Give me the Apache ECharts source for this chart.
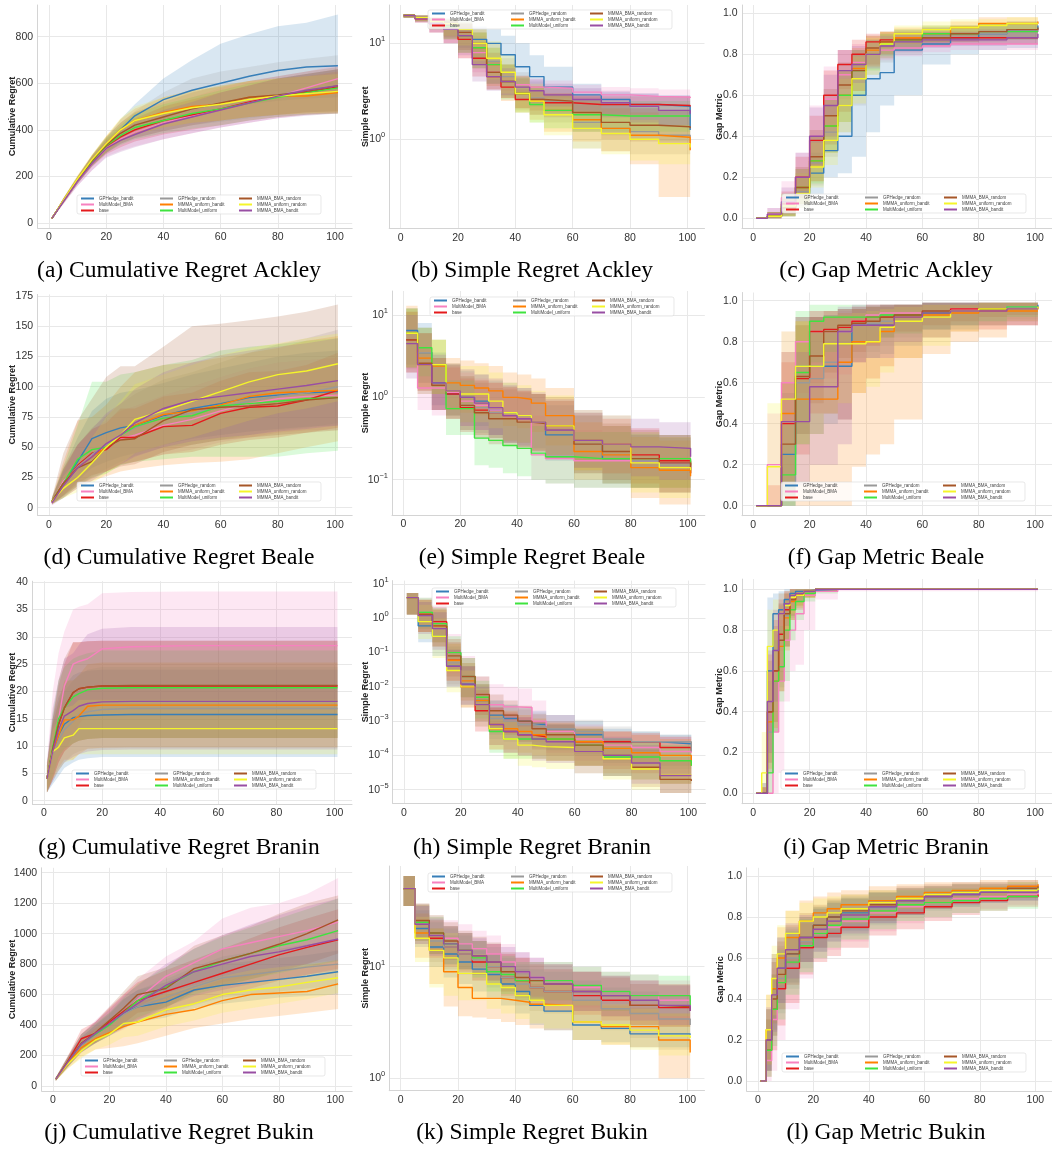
<!DOCTYPE html>
<html>
<head>
<meta charset="utf-8">
<title>Regret and gap metric curves</title>
<script src="https://cdn.jsdelivr.net/npm/echarts@6.0.0/dist/echarts.min.js"></script>
<style>
html, body { margin: 0; padding: 0; background: #fff; }
#main { width: 1052px; height: 1153px; }
</style>
</head>
<body>
<div id="main"></div>
<script>
// methods, in the order they were plotted
var methods = ['GPHedge_bandit', 'MultiModel_BMA', 'base', 'GPHedge_random', 'MMMA_uniform_bandit',
    'MultiModel_uniform', 'MMMA_BMA_random', 'MMMA_uniform_random', 'MMMA_BMA_bandit'];
var methodColors = ['#377eb8', '#f781bf', '#e41a1c', '#999999', '#ff7f00',
    '#3fe33f', '#a65628', '#f5f52a', '#984ea3'];
// legend reads column by column, echarts fills row by row
var legendOrder = ['GPHedge_bandit', 'GPHedge_random', 'MMMA_BMA_random',
    'MultiModel_BMA', 'MMMA_uniform_bandit', 'MMMA_uniform_random',
    'base', 'MultiModel_uniform', 'MMMA_BMA_bandit'];

var cumX = [1, 5, 10, 15, 20, 25, 30, 40, 50, 60, 70, 80, 90, 101];
var stepX = [1, 5, 10, 15, 20, 25, 30, 35, 40, 45, 50, 60, 70, 80, 90, 101];
var braninCumX = [1, 3, 5, 7, 10, 12, 15, 20, 30, 50, 101];
var braninGapX = [1, 3, 5, 7, 9, 11, 13, 15, 18, 22, 30, 101];
var bukinGapX = [1, 3, 5, 7, 10, 15, 20, 25, 30, 40, 50, 60, 70, 80, 90, 101];

var xTicks = [0, 20, 40, 60, 80, 100];
var gapTicks = [0, 0.2, 0.4, 0.6, 0.8, 1.0];

// ---- (a) cumulative regret, Ackley
var ackleyCumMean = [
    [20, 95, 185, 265, 335, 400, 460, 530, 570, 600, 630, 655, 670, 675],
    [20, 92, 180, 255, 320, 360, 390, 430, 460, 490, 520, 545, 580, 620],
    [20, 95, 185, 265, 330, 370, 400, 440, 465, 490, 520, 545, 560, 585],
    [20, 95, 185, 268, 335, 385, 420, 455, 490, 510, 530, 550, 570, 590],
    [20, 96, 188, 270, 338, 400, 440, 475, 500, 510, 540, 545, 545, 560],
    [20, 95, 186, 265, 332, 375, 410, 440, 470, 490, 515, 540, 560, 580],
    [20, 95, 186, 268, 335, 385, 420, 455, 490, 515, 540, 550, 565, 590],
    [20, 97, 190, 272, 340, 400, 440, 470, 495, 510, 530, 545, 555, 565],
    [20, 92, 180, 255, 320, 355, 380, 425, 455, 485, 515, 545, 570, 590]
];
var ackleyCumLo = [
    [18, 85, 170, 245, 305, 350, 390, 440, 470, 490, 510, 525, 535, 540],
    [18, 80, 160, 225, 285, 310, 330, 360, 385, 410, 430, 450, 465, 475],
    [18, 85, 170, 240, 295, 325, 350, 380, 400, 420, 440, 455, 465, 470],
    [18, 85, 170, 245, 300, 340, 365, 395, 420, 435, 450, 465, 475, 480],
    [18, 86, 172, 248, 305, 350, 380, 410, 430, 440, 455, 465, 470, 470],
    [18, 85, 170, 245, 300, 335, 360, 385, 405, 420, 440, 455, 465, 470],
    [18, 85, 170, 245, 300, 340, 365, 395, 420, 440, 455, 465, 475, 480],
    [18, 87, 174, 250, 305, 350, 380, 410, 430, 440, 455, 465, 470, 475],
    [18, 80, 160, 225, 280, 305, 325, 360, 385, 410, 430, 450, 460, 470]
];
var ackleyCumHi = [
    [22, 105, 200, 285, 365, 445, 510, 620, 700, 770, 810, 845, 860, 895],
    [22, 105, 200, 285, 350, 400, 440, 500, 540, 580, 610, 630, 650, 680],
    [22, 105, 200, 290, 360, 410, 450, 500, 530, 560, 590, 620, 640, 660],
    [22, 105, 200, 290, 370, 430, 480, 560, 620, 650, 670, 690, 705, 720],
    [22, 106, 204, 292, 372, 445, 490, 540, 570, 585, 610, 620, 630, 650],
    [22, 105, 200, 290, 365, 420, 470, 510, 540, 570, 600, 620, 640, 660],
    [22, 105, 200, 290, 370, 430, 475, 520, 560, 590, 610, 630, 650, 670],
    [22, 107, 206, 294, 375, 450, 500, 540, 570, 590, 610, 620, 630, 640],
    [22, 104, 198, 282, 350, 395, 430, 485, 520, 560, 590, 620, 640, 660]
];

// ---- (b) simple regret, Ackley
var ackleySimpleMean = [
    [19.5, 18.5, 17, 15.5, 14, 11, 10, 7.6, 5.7, 4.5, 3.5, 2.9, 2.6, 2.3, 2.2, 1.25],
    [19.5, 18, 16, 14, 12, 8, 5, 4, 3.7, 3.5, 3.4, 3.1, 2.9, 2.8, 2.75, 2.7],
    [19.5, 18, 16, 14, 11, 7, 4.5, 3.5, 2.6, 2.6, 2.4, 2.3, 2.3, 2.3, 2.25, 2.2],
    [19.5, 18.5, 17, 15, 13, 9, 6.5, 4.5, 3, 2.7, 2.5, 1.5, 1.3, 1.2, 1.1, 1.05],
    [19.5, 18.5, 17, 15, 12, 9, 6, 4, 3, 2.5, 2.0, 1.6, 1.3, 1.1, 1.05, 0.77],
    [19.5, 18.5, 17, 15, 12, 9, 6, 4, 3, 2.3, 2.0, 1.8, 1.75, 1.75, 1.75, 1.75],
    [19.5, 18.5, 17, 15.5, 13, 10, 5, 4, 3, 2.6, 2.5, 1.9, 1.5, 1.4, 1.35, 1.3],
    [19.5, 18.5, 17, 16, 14, 10, 7, 5, 3, 2.5, 1.8, 1.3, 1.15, 1.0, 0.9, 0.82],
    [19.5, 18, 16, 14, 12, 6, 4.5, 4, 3.5, 3.2, 2.9, 2.6, 2.4, 2.2, 2.0, 1.85]
];
var ackleySimpleLo = [
    [18.5, 17, 14.5, 12, 9, 7, 6, 4.5, 3, 2.2, 1.8, 1.3, 1.1, 1.0, 0.95, 0.8],
    [18.5, 16.5, 13, 10, 7, 5, 3.8, 3.2, 3.0, 2.8, 2.7, 2.5, 2.3, 2.3, 2.2, 2.2],
    [18.5, 16.5, 13, 10, 7, 4.5, 3.3, 2.7, 2.1, 2.0, 1.9, 1.8, 1.8, 1.8, 1.8, 1.8],
    [18.5, 17, 14, 11, 8, 5.5, 3.8, 2.8, 2.0, 1.8, 1.5, 0.8, 0.75, 0.7, 0.7, 0.7],
    [18.5, 17, 14, 11, 8, 5.5, 3.6, 2.5, 1.9, 1.6, 1.2, 0.95, 0.75, 0.55, 0.25, 0.16],
    [18.5, 17, 14, 11, 8, 5.5, 3.8, 2.6, 1.9, 1.5, 1.3, 1.2, 1.2, 1.2, 1.2, 1.2],
    [18.5, 17, 14, 11.5, 8.5, 6, 3.3, 2.7, 2.1, 1.8, 1.7, 1.2, 1.0, 0.95, 0.9, 0.9],
    [18.5, 17, 14.5, 12, 9.5, 6.5, 4.2, 3, 1.9, 1.5, 1.1, 0.8, 0.7, 0.6, 0.55, 0.53],
    [18.5, 16.5, 13, 10, 7.5, 4, 3.2, 2.9, 2.6, 2.4, 2.2, 1.9, 1.7, 1.5, 1.4, 1.3]
];
var ackleySimpleHi = [
    [20, 19.5, 18.5, 18, 17, 15, 14, 12, 10, 7.5, 5.7, 3.8, 3.1, 3.0, 2.9, 2.8],
    [20, 19.5, 18, 17, 16, 12, 7, 5, 4.6, 4.3, 4.1, 3.7, 3.5, 3.4, 3.3, 3.3],
    [20, 19.5, 18, 17, 15, 10, 6.5, 4.5, 3.3, 3.2, 3.0, 2.9, 2.8, 2.8, 2.8, 2.7],
    [20, 19.5, 18.5, 17.5, 16, 13, 10, 7, 5, 4, 3.6, 2.8, 2.4, 2.2, 2.0, 1.9],
    [20, 19.5, 18.5, 17.5, 16, 13, 9, 6, 4.5, 3.6, 3.0, 2.5, 2.1, 1.9, 1.8, 1.7],
    [20, 19.5, 18.5, 17.5, 16, 13, 9, 6, 4.4, 3.4, 2.9, 2.6, 2.5, 2.5, 2.5, 2.5],
    [20, 19.5, 18.5, 18, 16.5, 14, 8, 6, 4.3, 3.6, 3.4, 2.8, 2.3, 2.1, 2.0, 1.9],
    [20, 19.5, 18.5, 18, 17, 14, 10.5, 7.5, 4.6, 3.8, 2.8, 2.0, 1.8, 1.6, 1.4, 1.3],
    [20, 19.5, 18, 17, 16, 9, 6.5, 5.5, 4.6, 4.2, 3.8, 3.4, 3.2, 3.0, 2.8, 2.6]
];

// ---- (c) gap metric, Ackley
var ackleyGapMean = [
    [0, 0.01, 0.05, 0.12, 0.22, 0.33, 0.4, 0.6, 0.68, 0.71, 0.82, 0.85, 0.88, 0.9, 0.92, 0.94],
    [0, 0.02, 0.1, 0.2, 0.4, 0.58, 0.7, 0.76, 0.8, 0.82, 0.83, 0.84, 0.85, 0.85, 0.85, 0.85],
    [0, 0.01, 0.07, 0.2, 0.38, 0.6, 0.75, 0.8, 0.86, 0.87, 0.88, 0.88, 0.88, 0.88, 0.88, 0.88],
    [0, 0.01, 0.05, 0.13, 0.27, 0.42, 0.55, 0.68, 0.8, 0.84, 0.86, 0.89, 0.9, 0.9, 0.91, 0.92],
    [0, 0.01, 0.05, 0.15, 0.28, 0.45, 0.6, 0.73, 0.82, 0.86, 0.88, 0.9, 0.93, 0.95, 0.95, 0.96],
    [0, 0.01, 0.06, 0.15, 0.28, 0.45, 0.6, 0.72, 0.8, 0.85, 0.87, 0.9, 0.9, 0.91, 0.91, 0.91],
    [0, 0.01, 0.05, 0.15, 0.3, 0.5, 0.65, 0.72, 0.83, 0.86, 0.87, 0.88, 0.9, 0.91, 0.92, 0.93],
    [0, 0.01, 0.06, 0.12, 0.25, 0.38, 0.55, 0.68, 0.8, 0.85, 0.9, 0.92, 0.93, 0.94, 0.95, 0.95],
    [0, 0.02, 0.08, 0.2, 0.4, 0.55, 0.72, 0.75, 0.8, 0.84, 0.86, 0.87, 0.87, 0.87, 0.88, 0.9]
];
var ackleyGapLo = [
    [0, 0, 0.01, 0.05, 0.12, 0.2, 0.22, 0.3, 0.42, 0.55, 0.6, 0.75, 0.8, 0.82, 0.83, 0.85],
    [0, 0, 0.03, 0.1, 0.25, 0.42, 0.58, 0.68, 0.74, 0.77, 0.79, 0.81, 0.82, 0.82, 0.82, 0.82],
    [0, 0, 0.02, 0.1, 0.25, 0.45, 0.63, 0.72, 0.8, 0.83, 0.85, 0.85, 0.85, 0.85, 0.85, 0.85],
    [0, 0, 0.01, 0.06, 0.16, 0.3, 0.42, 0.55, 0.7, 0.76, 0.8, 0.84, 0.86, 0.86, 0.87, 0.88],
    [0, 0, 0.01, 0.07, 0.18, 0.32, 0.47, 0.62, 0.74, 0.8, 0.83, 0.86, 0.89, 0.91, 0.92, 0.93],
    [0, 0, 0.01, 0.07, 0.17, 0.32, 0.47, 0.6, 0.72, 0.79, 0.82, 0.86, 0.87, 0.87, 0.87, 0.87],
    [0, 0, 0.01, 0.07, 0.18, 0.36, 0.52, 0.62, 0.75, 0.8, 0.82, 0.84, 0.86, 0.87, 0.88, 0.89],
    [0, 0, 0.01, 0.05, 0.15, 0.26, 0.42, 0.56, 0.7, 0.78, 0.85, 0.88, 0.9, 0.91, 0.92, 0.92],
    [0, 0, 0.02, 0.1, 0.26, 0.4, 0.6, 0.66, 0.73, 0.78, 0.81, 0.83, 0.84, 0.84, 0.85, 0.86]
];
var ackleyGapHi = [
    [0, 0.03, 0.1, 0.2, 0.32, 0.45, 0.6, 0.75, 0.8, 0.84, 0.88, 0.9, 0.93, 0.95, 0.96, 0.97],
    [0, 0.05, 0.18, 0.32, 0.55, 0.74, 0.82, 0.85, 0.86, 0.87, 0.87, 0.87, 0.88, 0.88, 0.88, 0.88],
    [0, 0.03, 0.13, 0.3, 0.5, 0.72, 0.82, 0.87, 0.9, 0.91, 0.91, 0.91, 0.91, 0.91, 0.91, 0.91],
    [0, 0.03, 0.1, 0.22, 0.38, 0.55, 0.68, 0.8, 0.87, 0.9, 0.91, 0.93, 0.94, 0.94, 0.95, 0.95],
    [0, 0.03, 0.1, 0.24, 0.4, 0.58, 0.72, 0.83, 0.89, 0.91, 0.93, 0.94, 0.96, 0.98, 0.98, 0.99],
    [0, 0.03, 0.12, 0.24, 0.4, 0.58, 0.72, 0.82, 0.87, 0.9, 0.92, 0.94, 0.94, 0.95, 0.95, 0.95],
    [0, 0.03, 0.1, 0.25, 0.43, 0.63, 0.76, 0.82, 0.89, 0.91, 0.92, 0.93, 0.94, 0.95, 0.96, 0.97],
    [0, 0.03, 0.12, 0.22, 0.37, 0.5, 0.68, 0.79, 0.88, 0.91, 0.94, 0.96, 0.97, 0.97, 0.98, 0.98],
    [0, 0.05, 0.15, 0.32, 0.54, 0.7, 0.82, 0.84, 0.87, 0.89, 0.9, 0.91, 0.91, 0.92, 0.92, 0.94]
];

// ---- (d) cumulative regret, Beale
var bealeCumMean = [
    [5, 20, 38, 57, 62, 66, 68, 76, 82, 86, 91, 93, 95, 96],
    [4, 22, 33, 43, 50, 57, 60, 68, 73, 80, 86, 90, 92, 93],
    [5, 20, 35, 45, 48, 58, 58, 67, 68, 78, 83, 84, 89, 97],
    [5, 20, 34, 44, 52, 60, 66, 75, 78, 83, 88, 92, 95, 100],
    [5, 20, 33, 42, 50, 60, 68, 77, 80, 85, 92, 95, 96, 97],
    [5, 20, 40, 48, 50, 60, 67, 74, 76, 84, 86, 88, 90, 91],
    [5, 20, 33, 38, 50, 56, 57, 72, 81, 83, 84, 86, 89, 91],
    [5, 16, 25, 37, 50, 60, 73, 80, 88, 96, 104, 110, 113, 119],
    [4, 18, 33, 42, 53, 60, 70, 82, 89, 92, 95, 98, 101, 105]
];
var bealeCumLo = [
    [3, 10, 22, 33, 38, 42, 45, 52, 57, 60, 63, 65, 67, 68],
    [2, 10, 18, 25, 30, 35, 38, 44, 48, 54, 58, 62, 64, 64],
    [3, 10, 20, 27, 30, 36, 38, 44, 46, 52, 56, 58, 62, 66],
    [3, 10, 19, 26, 32, 38, 43, 50, 52, 56, 60, 64, 66, 70],
    [3, 8, 16, 22, 26, 30, 32, 35, 37, 38, 40, 45, 50, 55],
    [3, 8, 18, 25, 28, 35, 38, 40, 42, 42, 42, 42, 45, 47],
    [3, 9, 18, 24, 30, 34, 36, 46, 52, 56, 58, 60, 62, 64],
    [3, 8, 13, 20, 28, 36, 45, 52, 58, 65, 72, 78, 82, 88],
    [2, 8, 16, 22, 30, 36, 42, 50, 55, 58, 60, 63, 65, 68]
];
var bealeCumHi = [
    [8, 32, 58, 80, 90, 95, 97, 103, 110, 115, 120, 125, 128, 130],
    [7, 35, 52, 64, 72, 80, 84, 93, 100, 108, 115, 120, 122, 124],
    [8, 32, 52, 65, 70, 82, 82, 92, 95, 105, 112, 113, 118, 128],
    [8, 32, 52, 66, 76, 86, 94, 106, 112, 120, 128, 135, 140, 147],
    [8, 38, 72, 75, 85, 100, 112, 118, 120, 124, 128, 132, 138, 142],
    [8, 34, 68, 104, 104, 110, 112, 118, 122, 130, 133, 135, 138, 140],
    [8, 45, 72, 90, 108, 117, 117, 133, 150, 152, 155, 158, 162, 168],
    [7, 26, 40, 58, 75, 88, 102, 110, 118, 126, 132, 136, 140, 144],
    [7, 30, 52, 65, 78, 86, 98, 112, 120, 126, 130, 133, 136, 140]
];

// ---- (e) simple regret, Beale
var bealeSimpleMean = [
    [6.5, 3.5, 1.5, 1.1, 1.0, 0.9, 0.7, 0.65, 0.6, 0.5, 0.35, 0.3, 0.18, 0.17, 0.16, 0.16],
    [6, 1.3, 1.3, 1.15, 0.9, 0.8, 0.7, 0.6, 0.55, 0.2, 0.18, 0.17, 0.17, 0.17, 0.16, 0.15],
    [5, 2.5, 1.4, 1.1, 0.75, 0.7, 0.65, 0.6, 0.55, 0.5, 0.4, 0.3, 0.27, 0.2, 0.17, 0.12],
    [6, 3.5, 1.4, 1.2, 0.8, 0.75, 0.65, 0.6, 0.55, 0.5, 0.4, 0.27, 0.2, 0.17, 0.15, 0.12],
    [6, 3, 2.4, 1.5, 1.4, 1.3, 1.2, 1.0, 0.95, 0.85, 0.6, 0.22, 0.2, 0.14, 0.13, 0.11],
    [6, 4, 2.5, 0.73, 0.73, 0.32, 0.3, 0.26, 0.24, 0.21, 0.19, 0.18, 0.18, 0.18, 0.18, 0.15],
    [5, 2.6, 1.4, 1.2, 0.8, 0.65, 0.55, 0.55, 0.5, 0.48, 0.45, 0.27, 0.22, 0.18, 0.16, 0.13],
    [6, 2.5, 2.5, 1.2, 1.1, 1.1, 0.9, 0.65, 0.6, 0.5, 0.45, 0.3, 0.27, 0.16, 0.14, 0.13],
    [4.5, 2.5, 1.5, 1.2, 1.0, 0.85, 0.75, 0.6, 0.55, 0.5, 0.4, 0.3, 0.27, 0.25, 0.24, 0.19]
];
var bealeSimpleLo = [
    [2.5, 1.5, 0.8, 0.6, 0.5, 0.45, 0.35, 0.3, 0.28, 0.24, 0.17, 0.14, 0.09, 0.08, 0.07, 0.07],
    [2.2, 0.7, 0.6, 0.55, 0.45, 0.4, 0.35, 0.3, 0.28, 0.1, 0.09, 0.08, 0.08, 0.08, 0.07, 0.07],
    [2, 1.2, 0.7, 0.55, 0.38, 0.35, 0.32, 0.28, 0.25, 0.22, 0.18, 0.13, 0.12, 0.09, 0.08, 0.06],
    [2.3, 1.5, 0.7, 0.6, 0.4, 0.37, 0.32, 0.28, 0.25, 0.22, 0.18, 0.12, 0.09, 0.08, 0.07, 0.06],
    [2.3, 1.3, 1.1, 0.7, 0.65, 0.6, 0.55, 0.45, 0.42, 0.38, 0.26, 0.1, 0.09, 0.06, 0.05, 0.05],
    [2.3, 1.8, 1.1, 0.35, 0.35, 0.15, 0.14, 0.12, 0.11, 0.1, 0.09, 0.08, 0.08, 0.08, 0.08, 0.07],
    [2, 1.2, 0.7, 0.6, 0.4, 0.32, 0.27, 0.26, 0.24, 0.22, 0.2, 0.12, 0.1, 0.08, 0.07, 0.06],
    [2.3, 1.1, 1.1, 0.55, 0.5, 0.5, 0.42, 0.3, 0.28, 0.23, 0.2, 0.13, 0.12, 0.07, 0.06, 0.06],
    [1.7, 1.1, 0.7, 0.55, 0.45, 0.4, 0.35, 0.28, 0.26, 0.23, 0.18, 0.14, 0.12, 0.11, 0.1, 0.08]
];
var bealeSimpleHi = [
    [12, 8, 3.5, 2.5, 2.1, 1.9, 1.6, 1.5, 1.3, 1.1, 0.8, 0.65, 0.45, 0.35, 0.32, 0.3],
    [12, 4, 3, 2.4, 2, 1.7, 1.5, 1.3, 1.2, 0.6, 0.45, 0.4, 0.38, 0.35, 0.33, 0.3],
    [11, 6, 3, 2.3, 1.7, 1.6, 1.5, 1.35, 1.2, 1.1, 0.9, 0.65, 0.55, 0.42, 0.35, 0.27],
    [12, 7, 3, 2.5, 1.8, 1.6, 1.5, 1.35, 1.2, 1.1, 0.9, 0.6, 0.45, 0.38, 0.33, 0.28],
    [13, 7, 5, 3, 2.8, 2.6, 2.4, 2, 1.9, 1.7, 1.3, 0.5, 0.45, 0.33, 0.3, 0.25],
    [12, 7, 5, 1.6, 1.6, 0.7, 0.65, 0.55, 0.5, 0.45, 0.42, 0.38, 0.38, 0.36, 0.35, 0.3],
    [11, 6, 3, 2.5, 1.8, 1.5, 1.3, 1.25, 1.15, 1.1, 1.0, 0.6, 0.48, 0.4, 0.35, 0.3],
    [12, 6, 5, 2.6, 2.4, 2.4, 2.0, 1.5, 1.4, 1.2, 1.05, 0.7, 0.6, 0.38, 0.33, 0.3],
    [10, 6, 3.3, 2.6, 2.2, 1.9, 1.7, 1.4, 1.3, 1.15, 0.95, 0.7, 0.6, 0.55, 0.5, 0.32]
];

// ---- (f) gap metric, Beale
var bealeGapMean = [
    [0, 0, 0.25, 0.68, 0.68, 0.68, 0.68, 0.88, 0.88, 0.88, 0.92, 0.94, 0.95, 0.96, 0.97, 0.98],
    [0, 0.2, 0.6, 0.8, 0.85, 0.85, 0.85, 0.9, 0.93, 0.94, 0.94, 0.95, 0.96, 0.96, 0.97, 0.97],
    [0, 0, 0.4, 0.62, 0.85, 0.86, 0.87, 0.9, 0.92, 0.92, 0.93, 0.95, 0.96, 0.96, 0.96, 0.96],
    [0, 0, 0.1, 0.6, 0.62, 0.7, 0.85, 0.88, 0.89, 0.9, 0.92, 0.95, 0.95, 0.96, 0.96, 0.97],
    [0, 0, 0.45, 0.52, 0.52, 0.52, 0.7, 0.8, 0.8, 0.85, 0.92, 0.93, 0.94, 0.95, 0.95, 0.95],
    [0, 0, 0.15, 0.65, 0.9, 0.92, 0.92, 0.92, 0.92, 0.93, 0.93, 0.94, 0.95, 0.96, 0.97, 0.97],
    [0, 0, 0.3, 0.63, 0.73, 0.85, 0.88, 0.89, 0.9, 0.92, 0.93, 0.95, 0.95, 0.96, 0.96, 0.97],
    [0, 0.19, 0.52, 0.68, 0.68, 0.79, 0.79, 0.79, 0.8, 0.87, 0.9, 0.92, 0.95, 0.96, 0.96, 0.97],
    [0, 0, 0.41, 0.41, 0.58, 0.58, 0.85, 0.88, 0.88, 0.88, 0.92, 0.94, 0.95, 0.95, 0.96, 0.96]
];
var bealeGapLo = [
    [0, 0, 0, 0.35, 0.35, 0.4, 0.42, 0.7, 0.72, 0.74, 0.78, 0.82, 0.86, 0.88, 0.9, 0.94],
    [0, 0, 0.3, 0.55, 0.6, 0.62, 0.64, 0.7, 0.78, 0.82, 0.84, 0.86, 0.88, 0.88, 0.9, 0.9],
    [0, 0, 0.1, 0.25, 0.45, 0.45, 0.42, 0.55, 0.62, 0.68, 0.72, 0.82, 0.85, 0.86, 0.88, 0.9],
    [0, 0, 0, 0.3, 0.35, 0.45, 0.68, 0.72, 0.75, 0.78, 0.82, 0.86, 0.88, 0.9, 0.91, 0.93],
    [0, 0, 0, 0, 0, 0, 0, 0.19, 0.25, 0.3, 0.42, 0.74, 0.8, 0.82, 0.88, 0.9],
    [0, 0, 0, 0.3, 0.7, 0.75, 0.78, 0.8, 0.8, 0.82, 0.84, 0.86, 0.88, 0.9, 0.92, 0.93],
    [0, 0, 0.05, 0.35, 0.5, 0.65, 0.72, 0.75, 0.78, 0.82, 0.85, 0.88, 0.9, 0.92, 0.93, 0.94],
    [0, 0, 0.1, 0.3, 0.35, 0.45, 0.5, 0.55, 0.58, 0.65, 0.72, 0.78, 0.85, 0.88, 0.9, 0.92],
    [0, 0, 0.1, 0.1, 0.2, 0.2, 0.3, 0.7, 0.72, 0.72, 0.8, 0.86, 0.88, 0.88, 0.88, 0.88]
];
var bealeGapHi = [
    [0, 0, 0.55, 0.92, 0.92, 0.93, 0.93, 0.96, 0.97, 0.97, 0.98, 0.99, 0.99, 0.99, 0.99, 0.99],
    [0, 0.45, 0.85, 0.92, 0.95, 0.95, 0.95, 0.97, 0.98, 0.98, 0.98, 0.99, 0.99, 0.99, 0.99, 0.99],
    [0, 0.1, 0.7, 0.92, 0.95, 0.95, 0.96, 0.97, 0.98, 0.98, 0.98, 0.99, 0.99, 0.99, 0.99, 0.99],
    [0, 0, 0.3, 0.88, 0.9, 0.93, 0.96, 0.97, 0.97, 0.98, 0.98, 0.99, 0.99, 0.99, 0.99, 0.99],
    [0, 0, 0.75, 0.9, 0.92, 0.92, 0.94, 0.96, 0.97, 0.97, 0.98, 0.98, 0.98, 0.99, 0.99, 0.99],
    [0, 0, 0.4, 0.95, 0.98, 0.98, 0.98, 0.98, 0.98, 0.98, 0.98, 0.99, 0.99, 0.99, 0.99, 0.99],
    [0, 0, 0.6, 0.88, 0.92, 0.95, 0.96, 0.96, 0.97, 0.98, 0.98, 0.99, 0.99, 0.99, 0.99, 0.99],
    [0, 0.5, 0.85, 0.9, 0.9, 0.92, 0.93, 0.94, 0.95, 0.96, 0.97, 0.98, 0.98, 0.99, 0.99, 0.99],
    [0, 0, 0.75, 0.75, 0.92, 0.92, 0.97, 0.98, 0.98, 0.98, 0.98, 0.99, 0.99, 0.99, 0.99, 0.99]
];

// ---- (g) cumulative regret, Branin
var braninCumMean = [
    [4, 9, 12, 14, 15.2, 15.4, 15.6, 15.7, 15.8, 15.8, 15.8],
    [4, 10, 15, 21, 25, 25.5, 26, 27.8, 28.2, 28.4, 28.4],
    [4, 9.5, 14, 17, 19.8, 20.5, 20.8, 21, 21, 21, 21],
    [4, 8.5, 11, 13, 14.5, 15.8, 16.3, 16.7, 16.9, 16.9, 16.9],
    [4, 9, 12, 14.8, 14.8, 15.5, 17.3, 17.5, 17.5, 17.5, 17.5],
    [4, 10, 15, 17, 19, 19.6, 20.3, 20.6, 20.7, 20.7, 20.7],
    [4, 9.5, 14, 17, 19.8, 20.5, 20.8, 21, 21.1, 21.1, 21.1],
    [4, 9, 9.8, 11.5, 12, 13.2, 13.2, 13.2, 13.2, 13.2, 13.2],
    [4, 9, 13, 15.5, 16.5, 17.3, 17.8, 18.1, 18.2, 18.2, 18.2]
];
var braninCumLo = [
    [1.5, 3, 4.5, 6, 7, 7.5, 7.8, 8, 8, 8, 8],
    [1.5, 4, 7, 9, 12, 14, 16, 18, 18.5, 18.5, 18.5],
    [1.5, 4, 7, 9, 10.5, 11, 11.3, 11.5, 11.5, 11.5, 11.5],
    [1.5, 3.5, 5.5, 7, 8.5, 9, 9.5, 9.6, 9.7, 9.7, 9.7],
    [1.5, 4, 6, 7.5, 7.5, 8.5, 9.5, 9.7, 9.8, 9.8, 9.8],
    [1.5, 4.5, 8, 9.5, 10.5, 11, 11.3, 11.5, 11.5, 11.5, 11.5],
    [1.5, 4, 7, 9, 10.5, 11, 11.3, 11.5, 11.5, 11.5, 11.5],
    [1.5, 4, 5.5, 7, 7.5, 8.5, 8.5, 8.5, 8.5, 8.5, 8.5],
    [1.5, 3.5, 5.5, 7, 8, 8.5, 9, 9.3, 9.4, 9.4, 9.4]
];
var braninCumHi = [
    [6, 15, 19, 21, 23, 23.5, 23.8, 24, 24, 24, 24],
    [7, 20, 27, 31, 35, 35.5, 36, 38, 38.2, 38.3, 38.3],
    [6.5, 15, 21, 25, 29, 29, 29.2, 29.3, 29.3, 29.3, 29.3],
    [6.5, 14, 18, 20, 22, 23, 24, 24.5, 24.5, 24.5, 24.5],
    [6.5, 14, 18, 22, 22, 23, 25, 25.3, 25.3, 25.3, 25.3],
    [6.5, 16, 22, 24.5, 26, 26.5, 27, 27.5, 27.5, 27.5, 27.5],
    [6.5, 15, 22, 26, 29, 29, 29.2, 29.3, 29.3, 29.3, 29.3],
    [6, 13, 15, 17, 17.5, 18.5, 18.5, 18.5, 18.5, 18.5, 18.5],
    [7, 17, 22, 26, 27, 28.5, 30.5, 31.5, 31.8, 31.8, 31.8]
];

// ---- (h) simple regret, Branin
var braninSimpleMean = [
    [4, 0.6, 0.3, 0.04, 0.012, 4e-3, 1.5e-3, 1.2e-3, 1e-3, 8e-4, 6e-4, 4e-4, 2.5e-4, 2.5e-4, 2.2e-4, 2.1e-4],
    [4, 1.5, 0.8, 0.1, 0.02, 6e-3, 3e-3, 2.6e-3, 2.5e-3, 1e-3, 5e-4, 3e-4, 2e-4, 1.7e-4, 1.3e-4, 1.2e-4],
    [4, 1.3, 0.8, 0.06, 0.01, 2e-3, 6e-4, 5e-4, 4e-4, 3.5e-4, 3e-4, 2.5e-4, 2.5e-4, 2.5e-4, 1.7e-4, 1.4e-4],
    [4, 1.2, 0.5, 0.05, 0.015, 4e-3, 1.2e-3, 1e-3, 8e-4, 7e-4, 6e-4, 5e-4, 3e-4, 2.5e-4, 2.5e-4, 1.3e-4],
    [4, 1.3, 0.6, 0.06, 0.015, 4e-3, 8e-4, 6e-4, 5e-4, 4e-4, 3e-4, 2.5e-4, 1.6e-4, 1.2e-4, 1e-4, 5e-5],
    [4, 1.5, 0.7, 0.1, 0.02, 5e-3, 5e-4, 3e-4, 3e-4, 3e-4, 3e-4, 2e-4, 9e-5, 9e-5, 7e-5, 5e-5],
    [4, 1.3, 0.6, 0.08, 0.02, 6e-3, 2e-3, 1.5e-3, 1e-3, 6e-4, 4e-4, 2e-4, 1e-4, 4.5e-5, 2e-5, 1.8e-5],
    [4, 0.8, 0.3, 0.03, 0.01, 3e-3, 6e-4, 3e-4, 2e-4, 1.8e-4, 1.7e-4, 1.3e-4, 8e-5, 4e-5, 2.7e-5, 2.7e-5],
    [4, 1.2, 0.5, 0.04, 0.012, 3e-3, 8e-4, 5e-4, 4e-4, 3e-4, 2.5e-4, 1.3e-4, 1e-4, 6e-5, 2.6e-5, 2.6e-5]
];
var braninSimpleLo = [
    [1.3, 0.2, 0.08, 0.01, 3e-3, 1e-3, 4e-4, 3e-4, 2.5e-4, 2e-4, 1.5e-4, 1e-4, 6e-5, 6e-5, 5e-5, 5e-5],
    [1.3, 0.5, 0.2, 0.025, 5e-3, 1.5e-3, 7e-4, 6e-4, 5e-4, 2.5e-4, 1.2e-4, 7e-5, 5e-5, 4e-5, 3e-5, 3e-5],
    [1.3, 0.4, 0.2, 0.015, 2.5e-3, 5e-4, 1.5e-4, 1.2e-4, 1e-4, 8e-5, 7e-5, 5e-5, 4e-5, 3e-5, 1.5e-5, 1e-5],
    [1.3, 0.4, 0.15, 0.012, 4e-3, 1e-3, 3e-4, 2.5e-4, 2e-4, 1.7e-4, 1.4e-4, 1.1e-4, 7e-5, 5e-5, 4e-5, 3e-5],
    [1.3, 0.4, 0.15, 0.015, 4e-3, 1e-3, 2e-4, 1.5e-4, 1.2e-4, 1e-4, 7e-5, 5e-5, 3e-5, 2e-5, 1.5e-5, 1e-5],
    [1.3, 0.5, 0.2, 0.03, 5e-3, 1.2e-3, 1.2e-4, 8e-5, 8e-5, 8e-5, 7e-5, 5e-5, 2.5e-5, 2e-5, 1.5e-5, 1.2e-5],
    [1.3, 0.4, 0.15, 0.02, 5e-3, 1.5e-3, 5e-4, 4e-4, 2.5e-4, 1.5e-4, 1e-4, 5e-5, 2.5e-5, 1.2e-5, 8e-6, 8e-6],
    [1.3, 0.25, 0.07, 7e-3, 2.5e-3, 7e-4, 1.5e-4, 8e-5, 5e-5, 4.5e-5, 4e-5, 3e-5, 2e-5, 1e-5, 8e-6, 8e-6],
    [1.3, 0.35, 0.12, 0.01, 3e-3, 7e-4, 2e-4, 1.2e-4, 1e-4, 7e-5, 6e-5, 3e-5, 2.5e-5, 1.5e-5, 8e-6, 8e-6]
];
var braninSimpleHi = [
    [5.5, 1.5, 0.9, 0.12, 0.04, 0.012, 4e-3, 3e-3, 2.5e-3, 2e-3, 1.5e-3, 1e-3, 6e-4, 5e-4, 4e-4, 3.5e-4],
    [5.5, 4, 2.5, 0.35, 0.08, 0.02, 0.012, 0.01, 9e-3, 4e-3, 1.5e-3, 8e-4, 5e-4, 4e-4, 3.5e-4, 3e-4],
    [5.5, 3.5, 2.5, 0.2, 0.04, 8e-3, 2.5e-3, 1.8e-3, 1.3e-3, 1e-3, 8e-4, 6e-4, 5e-4, 4.5e-4, 3.5e-4, 3e-4],
    [5.5, 3, 1.5, 0.15, 0.05, 0.012, 4e-3, 3e-3, 2.2e-3, 1.8e-3, 1.5e-3, 1.1e-3, 7e-4, 5e-4, 4e-4, 3e-4],
    [5.5, 3.5, 1.8, 0.18, 0.05, 0.012, 2.5e-3, 2e-3, 1.5e-3, 1.2e-3, 9e-4, 7e-4, 5e-4, 4e-4, 3e-4, 2e-4],
    [5.5, 4, 2, 0.3, 0.07, 0.015, 1.5e-3, 1e-3, 9e-4, 9e-4, 8e-4, 6e-4, 3e-4, 2.5e-4, 2e-4, 1.5e-4],
    [5.5, 3.5, 1.8, 0.25, 0.07, 0.02, 6e-3, 4e-3, 2.8e-3, 1.6e-3, 1e-3, 6e-4, 3e-4, 1.5e-4, 7e-5, 6e-5],
    [5.5, 2.5, 1, 0.1, 0.03, 9e-3, 2e-3, 1e-3, 7e-4, 6e-4, 5e-4, 4e-4, 2.5e-4, 1.3e-4, 1e-4, 9e-5],
    [5.5, 3, 1.5, 0.12, 0.04, 0.01, 2.5e-3, 1.6e-3, 1.3e-3, 1e-3, 8e-4, 4.5e-4, 3.5e-4, 2e-4, 9e-5, 9e-5]
];

// ---- (i) gap metric, Branin
var braninGapMean = [
    [0, 0, 0.6, 0.88, 0.9, 0.95, 0.98, 0.99, 0.995, 1, 1, 1],
    [0, 0, 0, 0.3, 0.55, 0.75, 0.8, 0.88, 0.97, 0.99, 1, 1],
    [0, 0, 0.4, 0.6, 0.78, 0.9, 0.95, 0.97, 0.99, 1, 1, 1],
    [0, 0, 0.3, 0.55, 0.75, 0.87, 0.95, 0.97, 0.99, 1, 1, 1],
    [0, 0, 0.35, 0.55, 0.72, 0.86, 0.94, 0.97, 0.99, 1, 1, 1],
    [0, 0, 0.1, 0.55, 0.62, 0.8, 0.9, 0.94, 0.98, 1, 1, 1],
    [0, 0, 0.4, 0.6, 0.75, 0.88, 0.95, 0.97, 0.99, 1, 1, 1],
    [0, 0.1, 0.72, 0.8, 0.88, 0.92, 0.96, 0.97, 0.99, 1, 1, 1],
    [0, 0, 0.45, 0.7, 0.88, 0.93, 0.97, 0.98, 0.99, 1, 1, 1]
];
var braninGapLo = [
    [0, 0, 0.3, 0.7, 0.78, 0.88, 0.94, 0.96, 0.98, 0.99, 1, 1],
    [0, 0, 0, 0, 0.1, 0.45, 0.6, 0.63, 0.8, 0.95, 0.99, 1],
    [0, 0, 0.1, 0.3, 0.5, 0.72, 0.85, 0.9, 0.96, 0.99, 1, 1],
    [0, 0, 0.1, 0.3, 0.52, 0.72, 0.86, 0.92, 0.96, 0.99, 1, 1],
    [0, 0, 0.12, 0.32, 0.5, 0.7, 0.85, 0.91, 0.96, 0.99, 1, 1],
    [0, 0, 0, 0.3, 0.45, 0.55, 0.75, 0.85, 0.94, 0.98, 1, 1],
    [0, 0, 0.15, 0.35, 0.55, 0.72, 0.87, 0.92, 0.96, 0.99, 1, 1],
    [0, 0, 0.45, 0.55, 0.7, 0.8, 0.88, 0.92, 0.96, 0.99, 1, 1],
    [0, 0, 0.2, 0.45, 0.7, 0.82, 0.9, 0.94, 0.97, 0.99, 1, 1]
];
var braninGapHi = [
    [0, 0.05, 0.96, 0.98, 0.99, 1, 1, 1, 1, 1, 1, 1],
    [0, 0, 0.1, 0.6, 0.85, 0.95, 0.96, 0.98, 1, 1, 1, 1],
    [0, 0.03, 0.68, 0.85, 0.95, 0.99, 1, 1, 1, 1, 1, 1],
    [0, 0.03, 0.55, 0.8, 0.93, 0.98, 1, 1, 1, 1, 1, 1],
    [0, 0.03, 0.6, 0.8, 0.92, 0.98, 1, 1, 1, 1, 1, 1],
    [0, 0, 0.3, 0.75, 0.82, 0.95, 0.99, 1, 1, 1, 1, 1],
    [0, 0.03, 0.65, 0.82, 0.93, 0.98, 1, 1, 1, 1, 1, 1],
    [0, 0.3, 0.9, 0.95, 0.98, 0.99, 1, 1, 1, 1, 1, 1],
    [0, 0.05, 0.7, 0.9, 0.98, 0.99, 1, 1, 1, 1, 1, 1]
];

// ---- (j) cumulative regret, Bukin
var bukinCumMean = [
    [45, 150, 270, 340, 400, 480, 520, 550, 630, 660, 680, 700, 720, 750],
    [45, 150, 280, 350, 420, 480, 570, 720, 810, 900, 940, 980, 1020, 1075],
    [45, 155, 310, 345, 420, 490, 560, 620, 680, 740, 800, 860, 910, 960],
    [45, 150, 270, 340, 400, 470, 520, 580, 650, 710, 730, 755, 780, 800],
    [45, 140, 250, 310, 350, 390, 420, 470, 500, 560, 600, 610, 620, 670],
    [45, 150, 280, 340, 400, 480, 560, 650, 750, 820, 870, 920, 960, 1020],
    [45, 155, 280, 350, 430, 510, 600, 640, 770, 820, 870, 930, 1000, 1090],
    [45, 140, 230, 300, 340, 410, 420, 500, 540, 600, 630, 650, 680, 710],
    [45, 150, 275, 345, 410, 480, 540, 660, 750, 800, 850, 880, 920, 965]
];
var bukinCumLo = [
    [35, 120, 220, 280, 330, 390, 420, 450, 510, 540, 560, 580, 590, 600],
    [35, 120, 220, 280, 330, 370, 430, 550, 620, 680, 720, 760, 800, 830],
    [35, 125, 250, 280, 340, 390, 440, 490, 540, 590, 640, 690, 730, 770],
    [35, 120, 220, 280, 330, 380, 420, 470, 530, 580, 600, 620, 640, 660],
    [35, 110, 190, 240, 250, 260, 280, 330, 380, 410, 440, 460, 480, 505],
    [35, 120, 225, 280, 330, 390, 450, 520, 600, 650, 700, 740, 780, 820],
    [35, 125, 225, 285, 350, 410, 480, 510, 620, 660, 700, 750, 800, 870],
    [35, 110, 180, 240, 270, 320, 330, 390, 430, 480, 510, 540, 570, 610],
    [35, 120, 220, 280, 330, 380, 430, 520, 590, 630, 670, 700, 730, 760]
];
var bukinCumHi = [
    [55, 180, 320, 400, 470, 570, 630, 680, 760, 800, 820, 840, 860, 890],
    [55, 185, 340, 430, 520, 600, 700, 850, 950, 1100, 1170, 1200, 1260, 1365],
    [55, 185, 370, 420, 510, 600, 680, 760, 830, 900, 970, 1040, 1100, 1160],
    [55, 180, 320, 400, 480, 570, 630, 700, 780, 850, 880, 900, 930, 950],
    [55, 175, 310, 380, 440, 500, 550, 600, 640, 700, 740, 760, 790, 830],
    [55, 180, 340, 410, 480, 580, 670, 780, 900, 980, 1040, 1100, 1160, 1230],
    [55, 190, 340, 420, 520, 620, 720, 780, 920, 990, 1050, 1130, 1200, 1250],
    [55, 170, 290, 360, 420, 500, 520, 610, 660, 720, 760, 780, 800, 820],
    [55, 180, 340, 420, 500, 590, 660, 800, 900, 990, 1060, 1120, 1180, 1230]
];

// ---- (k) simple regret, Bukin
var bukinSimpleMean = [
    [50, 22, 15, 13, 11, 9.5, 8.5, 7, 6, 4.5, 4, 3.0, 2.8, 2.5, 2.5, 2.45],
    [50, 25, 20, 18, 16, 14.5, 13, 11, 9, 8, 7.5, 6.5, 6, 5.5, 5, 4.3],
    [50, 25, 18, 15, 13, 11, 10, 8, 7.5, 6.5, 6, 5.5, 5, 4.5, 4.3, 4.2],
    [50, 24, 17, 15, 13, 11.5, 10, 8, 7, 6.5, 6, 5, 4.2, 3.8, 3.4, 3.0],
    [50, 20, 14, 9, 6.5, 5.2, 5.2, 5.0, 4.8, 4.6, 4.5, 3.2, 2.9, 2.9, 2.2, 1.7],
    [50, 25, 20, 16, 14, 12, 9, 8.5, 7.5, 7.5, 7.5, 6.8, 6, 5.5, 5.5, 4.5],
    [50, 26, 20, 17, 14, 12.5, 11, 9, 8, 7.5, 7, 6, 5.5, 4.5, 4.4, 4.0],
    [50, 18, 14, 12, 8.7, 8.7, 7, 6.5, 5.5, 5, 4.5, 3.2, 3.0, 2.7, 2.4, 2.3],
    [50, 24, 19, 16, 14, 12.5, 11, 10, 9, 8, 7, 6, 5.5, 5, 4.5, 4.0]
];
var bukinSimpleLo = [
    [35, 15, 10, 8, 7, 6, 5.3, 4.5, 3.8, 3, 2.7, 2.2, 2.1, 1.9, 1.9, 1.8],
    [35, 17, 13, 12, 11, 10, 9, 7.5, 6, 5.5, 5, 4.3, 4, 3.7, 3.3, 2.9],
    [35, 17, 12, 10, 9, 7.5, 7, 5.5, 5, 4.5, 4, 3.7, 3.3, 3, 2.9, 2.8],
    [35, 16, 11, 9.5, 8.5, 7.5, 6.5, 5.2, 4.5, 4, 3.8, 3.2, 2.7, 2.3, 1.8, 1.15],
    [35, 12, 7, 4.4, 3.6, 3.5, 3.4, 3.2, 3.0, 2.8, 2.7, 2.2, 2.0, 1.9, 1.0, 0.95],
    [35, 17, 13, 10.5, 9.5, 8, 6, 5.7, 5, 5, 5, 4.5, 4, 3.7, 3.6, 3],
    [35, 18, 13, 11.5, 9.5, 8.5, 7.5, 6, 5.3, 5, 4.6, 4, 3.6, 3, 2.9, 2.6],
    [35, 11, 6.5, 5.5, 5, 5, 4.2, 3.8, 3.4, 3.1, 2.8, 2.2, 2.0, 1.8, 1.6, 1.5],
    [35, 16, 12.5, 10.5, 9.5, 8.5, 7.5, 6.8, 6, 5.3, 4.6, 4, 3.6, 3.3, 3, 2.6]
];
var bukinSimpleHi = [
    [65, 32, 22, 19, 16, 14, 13, 11, 9.5, 7, 6, 4.5, 4.2, 3.7, 3.6, 3.5],
    [65, 36, 28, 26, 24, 21, 19, 16, 13.5, 12, 11, 10, 9, 8.5, 7.5, 6.8],
    [65, 36, 26, 23, 20, 17, 16, 13, 12, 10.5, 9.5, 9, 8, 7.5, 7, 6.8],
    [65, 35, 25, 22, 19, 17, 15, 12, 10.5, 9.5, 9, 7.5, 6.5, 6, 5.5, 5],
    [65, 30, 22, 15, 11, 9, 8.5, 8, 7.5, 7.2, 7, 5, 4.5, 4.3, 3.8, 3.2],
    [65, 36, 28, 23, 20, 17, 13, 12.5, 11, 11, 11, 10, 9, 8.5, 8.3, 6.7],
    [65, 37, 29, 25, 21, 18.5, 16.5, 13.5, 12, 11, 10.5, 9, 8.3, 7, 6.8, 6.2],
    [65, 28, 22, 20, 14, 13, 11, 10, 8.5, 7.5, 7, 5, 4.6, 4.2, 3.8, 3.6],
    [65, 35, 27, 23, 20, 18, 16, 15, 13.5, 12, 10.5, 9, 8.3, 7.5, 6.8, 6.2]
];

// ---- (l) gap metric, Bukin
var bukinGapMean = [
    [0, 0.2, 0.45, 0.55, 0.62, 0.7, 0.76, 0.8, 0.82, 0.85, 0.88, 0.9, 0.91, 0.92, 0.93, 0.94],
    [0, 0.1, 0.3, 0.45, 0.55, 0.65, 0.72, 0.75, 0.78, 0.82, 0.85, 0.87, 0.89, 0.9, 0.91, 0.92],
    [0, 0.15, 0.35, 0.45, 0.55, 0.65, 0.7, 0.72, 0.75, 0.8, 0.82, 0.85, 0.87, 0.88, 0.9, 0.91],
    [0, 0.2, 0.4, 0.5, 0.6, 0.68, 0.74, 0.78, 0.8, 0.84, 0.87, 0.89, 0.91, 0.92, 0.93, 0.94],
    [0, 0.25, 0.45, 0.6, 0.7, 0.78, 0.82, 0.84, 0.86, 0.88, 0.9, 0.92, 0.93, 0.94, 0.95, 0.96],
    [0, 0.15, 0.35, 0.48, 0.58, 0.66, 0.72, 0.76, 0.79, 0.83, 0.86, 0.87, 0.88, 0.89, 0.9, 0.9],
    [0, 0.2, 0.4, 0.52, 0.62, 0.7, 0.76, 0.8, 0.83, 0.86, 0.88, 0.9, 0.92, 0.93, 0.94, 0.95],
    [0, 0.25, 0.5, 0.62, 0.72, 0.78, 0.8, 0.82, 0.84, 0.87, 0.89, 0.91, 0.92, 0.93, 0.93, 0.94],
    [0, 0.2, 0.42, 0.55, 0.64, 0.7, 0.74, 0.78, 0.81, 0.85, 0.88, 0.9, 0.91, 0.92, 0.92, 0.93]
];
var bukinGapLo = [
    [0, 0.05, 0.25, 0.38, 0.48, 0.58, 0.65, 0.7, 0.73, 0.77, 0.81, 0.84, 0.85, 0.87, 0.88, 0.9],
    [0, 0, 0.05, 0.2, 0.35, 0.5, 0.6, 0.64, 0.68, 0.73, 0.77, 0.8, 0.82, 0.84, 0.86, 0.87],
    [0, 0.02, 0.15, 0.27, 0.38, 0.52, 0.58, 0.61, 0.65, 0.71, 0.74, 0.78, 0.81, 0.83, 0.85, 0.86],
    [0, 0.05, 0.22, 0.33, 0.45, 0.55, 0.63, 0.68, 0.71, 0.76, 0.8, 0.83, 0.85, 0.87, 0.88, 0.89],
    [0, 0.08, 0.28, 0.45, 0.57, 0.67, 0.73, 0.76, 0.78, 0.81, 0.84, 0.87, 0.89, 0.9, 0.92, 0.93],
    [0, 0.02, 0.17, 0.3, 0.42, 0.53, 0.6, 0.65, 0.69, 0.74, 0.78, 0.8, 0.82, 0.83, 0.84, 0.85],
    [0, 0.05, 0.22, 0.35, 0.47, 0.58, 0.65, 0.7, 0.74, 0.78, 0.81, 0.84, 0.87, 0.88, 0.9, 0.91],
    [0, 0.08, 0.32, 0.47, 0.6, 0.68, 0.71, 0.74, 0.77, 0.81, 0.84, 0.86, 0.88, 0.89, 0.9, 0.91],
    [0, 0.05, 0.24, 0.38, 0.5, 0.58, 0.63, 0.68, 0.72, 0.77, 0.81, 0.84, 0.86, 0.87, 0.88, 0.89]
];
var bukinGapHi = [
    [0, 0.35, 0.62, 0.7, 0.75, 0.8, 0.85, 0.88, 0.9, 0.92, 0.94, 0.95, 0.96, 0.96, 0.97, 0.97],
    [0, 0.3, 0.55, 0.65, 0.72, 0.78, 0.82, 0.85, 0.87, 0.9, 0.92, 0.93, 0.94, 0.95, 0.96, 0.96],
    [0, 0.3, 0.52, 0.62, 0.7, 0.77, 0.8, 0.82, 0.84, 0.88, 0.9, 0.92, 0.93, 0.93, 0.94, 0.95],
    [0, 0.35, 0.58, 0.66, 0.74, 0.8, 0.85, 0.88, 0.89, 0.92, 0.94, 0.95, 0.96, 0.97, 0.97, 0.98],
    [0, 0.42, 0.62, 0.75, 0.83, 0.88, 0.9, 0.92, 0.93, 0.95, 0.96, 0.97, 0.97, 0.98, 0.98, 0.99],
    [0, 0.3, 0.52, 0.64, 0.73, 0.79, 0.84, 0.87, 0.89, 0.92, 0.93, 0.94, 0.94, 0.95, 0.95, 0.95],
    [0, 0.35, 0.58, 0.68, 0.76, 0.82, 0.86, 0.89, 0.91, 0.93, 0.95, 0.96, 0.97, 0.97, 0.98, 0.98],
    [0, 0.42, 0.66, 0.76, 0.83, 0.87, 0.89, 0.9, 0.91, 0.93, 0.94, 0.95, 0.96, 0.96, 0.97, 0.97],
    [0, 0.36, 0.6, 0.7, 0.77, 0.81, 0.84, 0.87, 0.89, 0.92, 0.94, 0.95, 0.96, 0.96, 0.96, 0.97]
];

var captions = ['(a) Cumulative Regret Ackley', '(b) Simple Regret Ackley', '(c) Gap Metric Ackley',
    '(d) Cumulative Regret Beale', '(e) Simple Regret Beale', '(f) Gap Metric Beale',
    '(g) Cumulative Regret Branin', '(h) Simple Regret Branin', '(i) Gap Metric Branin',
    '(j) Cumulative Regret Bukin', '(k) Simple Regret Bukin', '(l) Gap Metric Bukin'];

// layout of the 12 panels
var panels = [
    {x: cumX, mean: ackleyCumMean, lo: ackleyCumLo, hi: ackleyCumHi, name: 'Cumulative Regret',
        grid: [37.6, 5, 314.6, 223], y: [-21.5, 936], ticks: [0, 200, 400, 600, 800], gap: 20.2, legend: [77, 195], cap: [179, 271]},
    {x: stepX, mean: ackleySimpleMean, lo: ackleySimpleLo, hi: ackleySimpleHi, name: 'Simple Regret', log: true, step: true,
        grid: [389.2, 5, 315.3, 223.3], y: [0.118, 25.1], gap: 18.8, legend: [428, 10], cap: [532, 271]},
    {x: stepX, mean: ackleyGapMean, lo: ackleyGapLo, hi: ackleyGapHi, name: 'Gap Metric', step: true, fixed: 1,
        grid: [742, 5, 313, 223.3], y: [-0.049, 1.04], ticks: gapTicks, gap: 17.6, legend: [782, 194], cap: [886, 271]},
    {x: cumX, mean: bealeCumMean, lo: bealeCumLo, hi: bealeCumHi, name: 'Cumulative Regret',
        grid: [37.6, 294.4, 314.6, 220.9], y: [-6.3, 176.3], ticks: [0, 25, 50, 75, 100, 125, 150, 175], gap: 20.5, legend: [77, 482], cap: [179, 558]},
    {x: stepX, mean: bealeSimpleMean, lo: bealeSimpleLo, hi: bealeSimpleHi, name: 'Simple Regret', log: true, step: true,
        grid: [392, 291, 312.8, 224], y: [0.0372, 19.6], gap: 21.6, legend: [430, 297], cap: [532, 558]},
    {x: stepX, mean: bealeGapMean, lo: bealeGapLo, hi: bealeGapHi, name: 'Gap Metric', step: true, fixed: 1,
        grid: [742, 292.5, 313, 223.2], y: [-0.049, 1.04], ticks: gapTicks, gap: 17.6, legend: [781, 482], cap: [886, 558]},
    {x: braninCumX, mean: braninCumMean, lo: braninCumLo, hi: braninCumHi, name: 'Cumulative Regret',
        grid: [32.4, 581.2, 319.6, 222.8], y: [-0.6, 40.2], ticks: [0, 5, 10, 15, 20, 25, 30, 35, 40], gap: 15.3, legend: [72, 770], cap: [179, 848]},
    {x: stepX, mean: braninSimpleMean, lo: braninSimpleLo, hi: braninSimpleHi, name: 'Simple Regret', log: true, step: true,
        grid: [392.6, 580.6, 312.9, 222.7], y: [4.01e-6, 12.59], gap: 22.2, legend: [432, 588], cap: [532, 848]},
    {x: braninGapX, mean: braninGapMean, lo: braninGapLo, hi: braninGapHi, name: 'Gap Metric', step: true, fixed: 1,
        grid: [742, 579.1, 313, 224.6], y: [-0.051, 1.05], ticks: gapTicks, gap: 17.6, legend: [781, 770], cap: [886, 848]},
    {x: cumX, mean: bukinCumMean, lo: bukinCumLo, hi: bukinCumHi, name: 'Cumulative Regret',
        grid: [41.7, 867.8, 310.5, 223.2], y: [-33, 1432], ticks: [0, 200, 400, 600, 800, 1000, 1200, 1400], gap: 24.6, legend: [81, 1057], cap: [179, 1133]},
    {x: stepX, mean: bukinSimpleMean, lo: bukinSimpleLo, hi: bukinSimpleHi, name: 'Simple Regret', log: true, step: true,
        grid: [389.2, 866, 315.3, 224.7], y: [0.774, 79.8], gap: 18.8, legend: [428, 873], cap: [532, 1133]},
    {x: bukinGapX, mean: bukinGapMean, lo: bukinGapLo, hi: bukinGapHi, name: 'Gap Metric', step: true, fixed: 1,
        grid: [746.7, 867.8, 310, 223.2], y: [-0.049, 1.04], ticks: gapTicks, gap: 21.3, legend: [782, 1053], cap: [886, 1133]}
];

var labelColor = '#333333';
var gridColor = '#e8e8e8';
var spineColor = '#d4d4d4';
var sansFont = '"Liberation Sans", Arial, sans-serif';

function logLabel(v) {
    var e = Math.log(v) / Math.LN10;
    var r = Math.round(e);
    if (Math.abs(e - r) > 1e-6) return '';
    return '{b|10}{s|' + (r < 0 ? '\u2212' + (-r) : r) + '}';
}

// shaded spread: one polygon per method, drawn through the axes of its panel
function bandRenderer(color, stepped) {
    return function (params, api) {
        if (params.dataIndexInside !== 0) return null;
        var n = params.dataInsideLength;
        var top = [], bottom = [];
        for (var j = 0; j < n; j++) {
            var x = api.value(0, j), lo = api.value(1, j), hi = api.value(2, j);
            if (stepped && j > 0) {
                top.push(api.coord([x, api.value(2, j - 1)]));
                bottom.push(api.coord([x, api.value(1, j - 1)]));
            }
            top.push(api.coord([x, hi]));
            bottom.push(api.coord([x, lo]));
        }
        return {
            type: 'polygon',
            shape: {points: top.concat(bottom.reverse())},
            style: {fill: color, opacity: 0.19},
            silent: true
        };
    };
}

var myChart = echarts.init(document.getElementById('main'));

var grids = [], xAxes = [], yAxes = [], legends = [], series = [], graphics = [];

panels.forEach(function (p, i) {
    grids.push({left: p.grid[0], top: p.grid[1], width: p.grid[2], height: p.grid[3], containLabel: false});

    xAxes.push({
        type: 'value', gridIndex: i, min: -4, max: 106,
        axisLine: {show: true, onZero: false, lineStyle: {color: spineColor, width: 1}},
        axisTick: {show: false, customValues: xTicks},
        axisLabel: {customValues: xTicks, color: labelColor, fontSize: 10.5, fontFamily: sansFont, margin: 4},
        splitLine: {show: true, lineStyle: {color: gridColor, width: 1}}
    });

    var y = {
        gridIndex: i, min: p.y[0], max: p.y[1],
        name: p.name, nameLocation: 'middle', nameGap: p.gap, nameMoveOverlap: false,
        nameTextStyle: {fontFamily: sansFont, fontWeight: 'bold', fontSize: 9, color: '#222'},
        axisLine: {show: true, onZero: false, lineStyle: {color: spineColor, width: 1}},
        splitLine: {show: true, lineStyle: {color: gridColor, width: 1}}
    };
    if (p.log) {
        y.type = 'log';
        y.logBase = 10;
        y.axisTick = {show: false};
        y.splitLine.showMinLine = false;
        y.splitLine.showMaxLine = false;
        y.axisLabel = {
            showMinLabel: false, showMaxLabel: false, margin: 4,
            formatter: logLabel,
            rich: {
                b: {fontSize: 10.5, fontFamily: sansFont, color: labelColor, lineHeight: 16},
                s: {fontSize: 7.5, fontFamily: sansFont, color: labelColor, verticalAlign: 'top', lineHeight: 8}
            }
        };
    } else {
        y.type = 'value';
        y.axisTick = {show: false, customValues: p.ticks};
        y.axisLabel = {
            customValues: p.ticks, color: labelColor, fontSize: 10.5, fontFamily: sansFont, margin: 4.5,
            formatter: p.fixed ? function (v) { return v.toFixed(1); } : function (v) { return String(v); }
        };
    }
    yAxes.push(y);

    legends.push({
        data: legendOrder, left: p.legend[0], top: p.legend[1], width: 240,
        orient: 'horizontal', selectedMode: false,
        icon: 'rect', itemWidth: 13, itemHeight: 2, itemGap: 1,
        padding: [1, 4, 1, 4],
        backgroundColor: 'rgba(255,255,255,0.8)', borderColor: '#d8d8d8', borderWidth: 0.6, borderRadius: 2,
        formatter: function (name) { return '{t|' + name + '}'; },
        textStyle: {
            rich: {t: {width: 60, fontSize: 4.5, lineHeight: 6, color: '#444', fontFamily: sansFont}}
        }
    });

    methods.forEach(function (m, k) {
        var c = methodColors[k];
        series.push({
            type: 'custom', name: 'band', xAxisIndex: i, yAxisIndex: i,
            data: p.x.map(function (x, j) { return [x, p.lo[k][j], p.hi[k][j]]; }),
            encode: {x: 0, y: [1, 2]},
            renderItem: bandRenderer(c, !!p.step),
            silent: true, z: 1
        });
        series.push({
            type: 'line', name: m, xAxisIndex: i, yAxisIndex: i,
            data: p.x.map(function (x, j) { return [x, p.mean[k][j]]; }),
            step: p.step ? 'end' : false, symbol: 'none',
            lineStyle: {width: 1.4, color: c}, itemStyle: {color: c}, z: 3
        });
    });

    graphics.push({
        type: 'text', x: p.cap[0], y: p.cap[1],
        style: {
            text: captions[i], fill: '#000',
            font: '23.5px "Liberation Serif", "Times New Roman", serif',
            textAlign: 'center', textVerticalAlign: 'middle', align: 'center', verticalAlign: 'middle'
        }
    });
});

var option = {
    animation: false,
    backgroundColor: '#ffffff',
    grid: grids,
    xAxis: xAxes,
    yAxis: yAxes,
    legend: legends,
    graphic: graphics,
    series: series
};
myChart.setOption(option);
</script>
</body>
</html>
